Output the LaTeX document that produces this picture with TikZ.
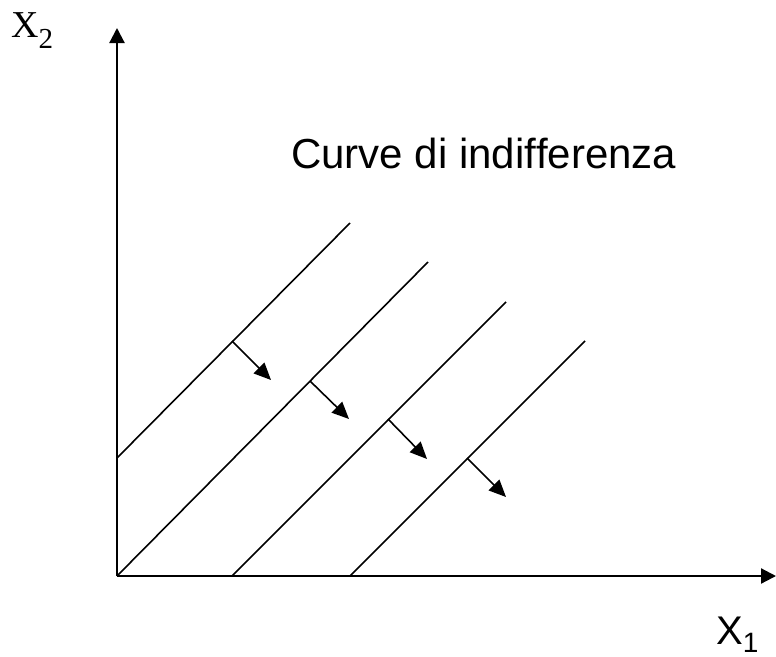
\documentclass[tikz,border=0pt]{standalone}
\usepackage{fontspec}
\setmainfont{Liberation Sans}[Ligatures=CommonOff]
\newfontfamily\serifx{Liberation Serif}
\usetikzlibrary{arrows.meta}
\begin{document}
\begin{tikzpicture}[x=1pt,y=-1pt,
  axis/.style={line width=2.2pt,-{Triangle[length=15pt,width=15pt]}},
  curve/.style={line width=1.6pt},
  dirarrow/.style={line width=1.6pt,-{Triangle[length=17pt,width=15pt]}},
  lbl/.style={inner sep=0pt,anchor=base west}]
\useasboundingbox (0,0) rectangle (776,656);
% axes
\coordinate (O) at (117,576);
\coordinate (Ytop) at (117,28);
\coordinate (Xend) at (776,576);
\draw[axis] (O) -- (Ytop);
\draw[axis] (O) -- (Xend);
% indifference lines
\coordinate (a1) at (117,458); \coordinate (b1) at (350,223);
\coordinate (a2) at (117,576); \coordinate (b2) at (428,262);
\coordinate (a3) at (232,576); \coordinate (b3) at (506,302);
\coordinate (a4) at (350,576); \coordinate (b4) at (585,341);
\foreach \i in {1,2,3,4} \draw[curve] (a\i) -- (b\i);
% direction arrows
\coordinate (s1) at (232,341); \coordinate (t1) at (271,380);
\coordinate (s2) at (310,381); \coordinate (t2) at (349,419);
\coordinate (s3) at (388,419); \coordinate (t3) at (427,459);
\coordinate (s4) at (467,458); \coordinate (t4) at (506,497);
\foreach \i in {1,2,3,4} \draw[dirarrow] (s\i) -- (t\i);
% labels
\node[lbl] (title) at (291,168) {\fontsize{42}{50}\selectfont Curve di indif\kern0pt ferenza};
\node[lbl] (x2) at (11,37) {\serifx\fontsize{38}{40}\selectfont X\raisebox{-11pt}{\fontsize{29}{30}\selectfont 2}};
\node[lbl] (x1) at (716,644) {\fontsize{40}{44}\selectfont X\raisebox{-8pt}{\fontsize{28}{30}\selectfont 1}};
\end{tikzpicture}
\end{document}
